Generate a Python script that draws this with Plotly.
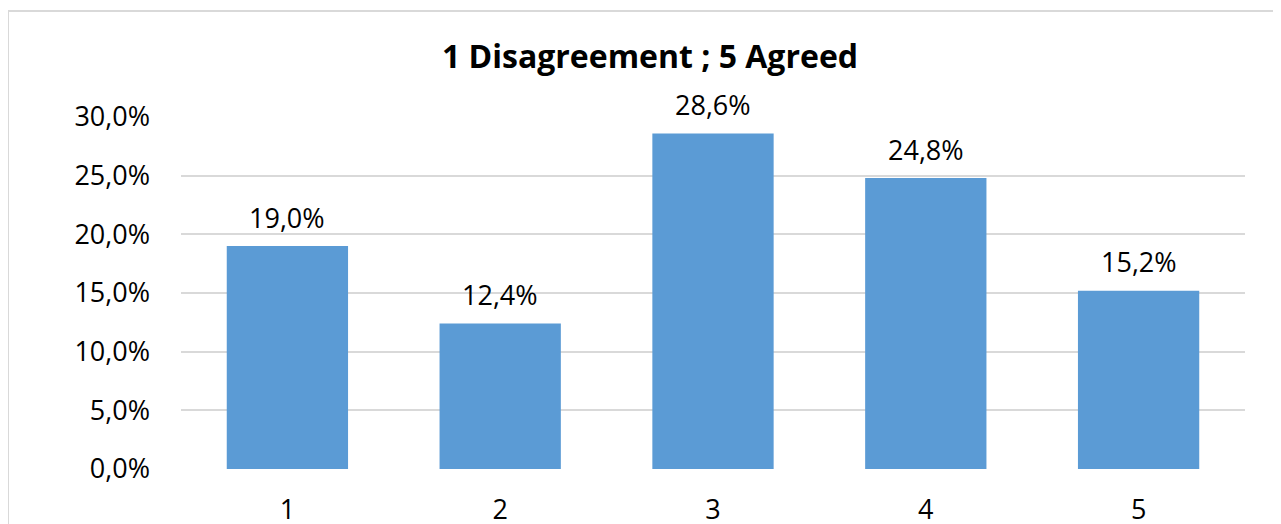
import plotly.graph_objects as go

categories = ["1", "2", "3", "4", "5"]
values = [0.190, 0.124, 0.286, 0.248, 0.152]
title_text = "1 Disagreement ; 5 Agreed"
tick_vals = [0, 0.05, 0.10, 0.15, 0.20, 0.25, 0.30]

W, H = 1281, 524
OFF = 8  # page body margin offset
L, R, T, B = 181 - OFF, 1245 - OFF, 117 - OFF, 469 - OFF

fig = go.Figure(go.Bar(
    x=categories, y=values,
    marker=dict(color="#5B9BD5", line=dict(width=0)),
    hoverinfo="x+y",
))

fig.update_layout(
    width=W, height=H,
    margin=dict(l=L, r=W - R, t=T, b=H - B, pad=0, autoexpand=False),
    paper_bgcolor="white", plot_bgcolor="white",
    separators=", ",
    bargap=0.43,
    showlegend=False,
    font=dict(family="Open Sans", size=27, color="#000000"),
    title=dict(text="<b>" + title_text + "</b>", x=(650 - OFF) / W, xanchor="center",
               y=1 - (57 - OFF) / H, yanchor="middle",
               font=dict(family="Open Sans", size=32, color="#000000")),
    xaxis=dict(type="category", range=[-0.5, len(categories) - 0.5], automargin=False,
               showgrid=False, showline=False, ticks="", ticklabelstandoff=22,
               tickfont=dict(size=27)),
    yaxis=dict(range=[0, 0.30], tickvals=tick_vals, tickformat=".1%", automargin=False,
               showgrid=True, gridcolor="#D9D9D9", gridwidth=1.5,
               zeroline=False, showline=False, ticks="", ticklabelstandoff=30,
               tickfont=dict(size=27)),
    shapes=[dict(type="rect", xref="paper", yref="paper",
                 x0=(0 - L) / (R - L), x1=1.2, y0=-0.3, y1=(B - 3) / (B - T),
                 line=dict(color="#D9D9D9", width=2), layer="below")],
    annotations=[dict(x=i, y=v, xref="x", yref="y", text=f"{v*100:.1f}%".replace(".", ","),
                      showarrow=False, yanchor="middle", yshift=29,
                      font=dict(family="Open Sans", size=27, color="#000000"))
                 for i, v in enumerate(values)],
)

fig.write_html("out.html")
